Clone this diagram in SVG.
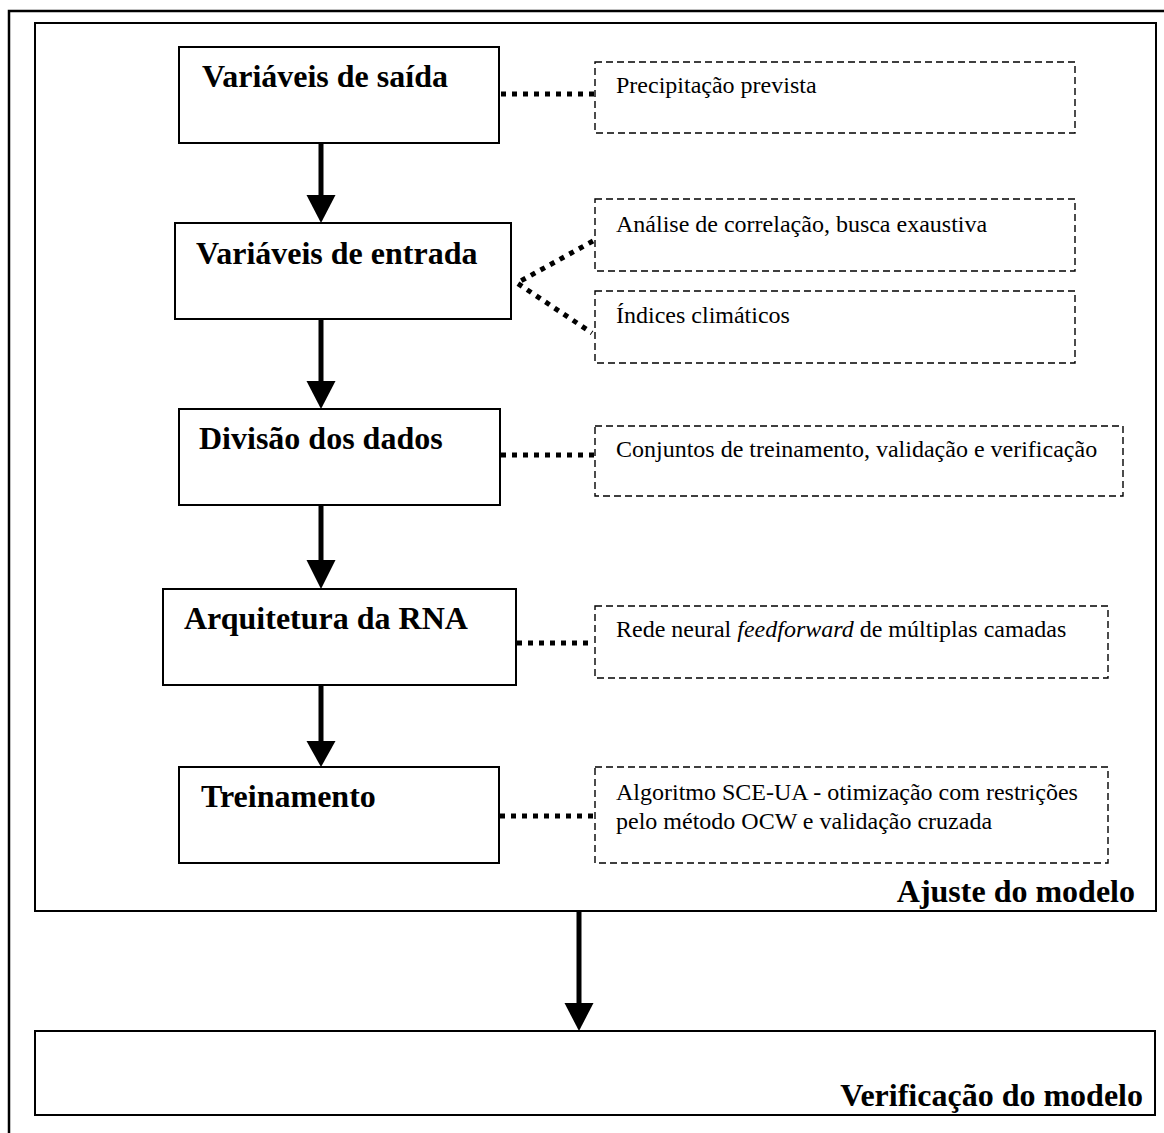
<svg xmlns="http://www.w3.org/2000/svg" width="1164" height="1133" viewBox="0 0 1164 1133">
<style>
.frame{fill:none;stroke:#000;stroke-width:2.5}
.box{fill:#fff;stroke:#000;stroke-width:2}
.note{fill:#fff;stroke:#000;stroke-width:1.4;stroke-dasharray:7 4}
.lbl{font-family:"Liberation Serif","Times New Roman",serif;font-weight:bold;font-size:32px;fill:#000}
.txt{font-family:"Liberation Serif","Times New Roman",serif;font-size:24px;fill:#000}
.dot{fill:none;stroke:#000;stroke-width:5;stroke-dasharray:5 6}
.shaft{stroke:#000;stroke-width:5;fill:none}
.head{fill:#000}
</style>
<path class="frame" d="M9,1135 V11 H1166"/>
<g id="ajuste">
<rect class="box" x="35" y="23" width="1121" height="888"/>
<text class="lbl" x="1135" y="902" text-anchor="end">Ajuste do modelo</text>
</g>
<g id="verificacao">
<rect class="box" x="35" y="1031" width="1120" height="84"/>
<text class="lbl" x="1143" y="1106" text-anchor="end">Verificação do modelo</text>
</g>
<g id="saida">
<rect class="box" x="179" y="47" width="320" height="96"/>
<text class="lbl" x="202" y="87">Variáveis de saída</text>
</g>
<g id="entrada">
<rect class="box" x="175" y="223" width="336" height="96"/>
<text class="lbl" x="196" y="264">Variáveis de entrada</text>
</g>
<g id="divisao">
<rect class="box" x="179" y="409" width="321" height="96"/>
<text class="lbl" x="199" y="449">Divisão dos dados</text>
</g>
<g id="arquitetura">
<rect class="box" x="163" y="589" width="353" height="96"/>
<text class="lbl" x="184" y="629">Arquitetura da RNA</text>
</g>
<g id="treinamento">
<rect class="box" x="179" y="767" width="320" height="96"/>
<text class="lbl" x="201" y="807">Treinamento</text>
</g>
<g id="precipitacao">
<rect class="note" x="595" y="62" width="480" height="71"/>
<text class="txt" x="616" y="93">Precipitação prevista</text>
</g>
<g id="analise">
<rect class="note" x="595" y="199" width="480" height="72"/>
<text class="txt" x="616" y="232">Análise de correlação, busca exaustiva</text>
</g>
<g id="indices">
<rect class="note" x="595" y="291" width="480" height="72"/>
<text class="txt" x="616" y="323">Índices climáticos</text>
</g>
<g id="conjuntos">
<rect class="note" x="595" y="426" width="528" height="70"/>
<text class="txt" x="616" y="457">Conjuntos de treinamento, validação e verificação</text>
</g>
<g id="rede">
<rect class="note" x="595" y="606" width="513" height="72"/>
<text class="txt" x="616" y="637">Rede neural <tspan font-style="italic">feedforward</tspan> de múltiplas camadas</text>
</g>
<g id="algoritmo">
<rect class="note" x="595" y="767" width="513" height="96"/>
<text class="txt" x="616" y="800">Algoritmo SCE-UA - otimização com restrições</text>
<text class="txt" x="616" y="829">pelo método OCW e validação cruzada</text>
</g>
<g id="connectors">
<line class="shaft" x1="321" y1="143" x2="321" y2="198"/>
<polygon class="head" points="306.5,195 335.5,195 321,223"/>
<line class="shaft" x1="321" y1="319" x2="321" y2="384"/>
<polygon class="head" points="306.5,381 335.5,381 321,409"/>
<line class="shaft" x1="321" y1="505" x2="321" y2="563"/>
<polygon class="head" points="306.5,560 335.5,560 321,589"/>
<line class="shaft" x1="321" y1="685" x2="321" y2="744"/>
<polygon class="head" points="306.5,741 335.5,741 321,767"/>
<line class="shaft" x1="579" y1="912" x2="579" y2="1006"/>
<polygon class="head" points="564.5,1003 593.5,1003 579,1031"/>
<line class="dot" x1="501" y1="94" x2="594" y2="94"/>
<polyline class="dot" points="593,241 517,283 592,333"/>
<line class="dot" x1="501" y1="455" x2="595" y2="455"/>
<line class="dot" x1="517" y1="643" x2="594" y2="643"/>
<line class="dot" x1="500" y1="816" x2="594" y2="816"/>
</g>
</svg>
